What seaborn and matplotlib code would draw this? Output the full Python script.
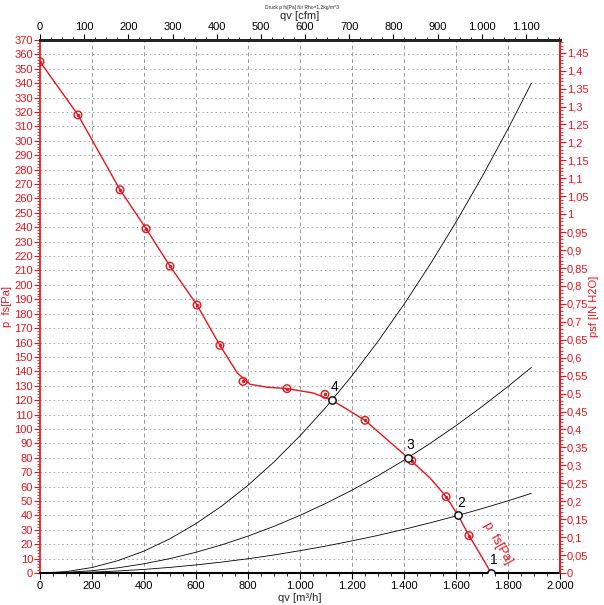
import numpy as np
import pandas as pd
import matplotlib
matplotlib.use("Agg")
import matplotlib.pyplot as plt
from matplotlib.ticker import MultipleLocator, FuncFormatter
import seaborn as sns

# fan curve p fs [Pa] over qv [m3/h]
fan_qv = [0, 146, 308, 408, 500, 604, 692, 720, 758, 808, 873, 950, 1050, 1123, 1250, 1415, 1500, 1562, 1608, 1650, 1690, 1735]
fan_p = [355, 318, 266, 239, 213, 186, 158, 150, 139, 131, 129, 128, 125, 120, 106, 80, 66, 53, 40, 26, 14, 0]
marker_qv = [0, 146, 308, 408, 500, 604, 692, 781, 950, 1096, 1250, 1430, 1562, 1650]
marker_p = [355, 318, 266, 239, 213, 186, 158, 133, 128, 124, 106, 78, 53, 26]

# system curves
sys_qv = [0, 100, 200, 300, 400, 500, 600, 700, 800, 900, 1000, 1100, 1200, 1300, 1400, 1500, 1600, 1700, 1800, 1890]
sys_a = [0, 0.95, 3.8, 8.6, 15.2, 23.8, 34.3, 46.6, 60.9, 77.1, 95.2, 115.1, 137, 160.8, 186.5, 214.1, 243.6, 275, 308.3, 340]
sys_b = [0, 0.4, 1.6, 3.6, 6.4, 10, 14.4, 19.6, 25.6, 32.4, 40, 48.4, 57.5, 67.5, 78.3, 89.9, 102.3, 115.5, 129.5, 142.7]
sys_c = [0, 0.15, 0.6, 1.4, 2.5, 3.9, 5.6, 7.6, 9.9, 12.5, 15.5, 18.7, 22.3, 26.1, 30.3, 34.8, 39.6, 44.7, 50.1, 55.3]

# operating points
op_labels = ["1", "2", "3", "4"]
op_qv = [1735, 1608, 1415, 1123]
op_p = [0, 40, 80, 120]

RED = "#e8141c"
PA_PER_INH2O = 249.089
M3H_PER_CFM = 1.69901

sns.set_style("white")
plt.rcParams["font.family"] = ["Liberation Sans", "DejaVu Sans"]

fig = plt.figure(figsize=(6.04, 6.05), dpi=100)
ax = fig.add_axes([40 / 604, 32 / 605, 520 / 604, 533 / 605])

# grid
for v in range(200, 2000, 200):
    ax.axvline(v, color="#999999", lw=0.7, ls=(0, (4, 3)), zorder=0)
for v in range(10, 370, 10):
    ax.axhline(v, color="#a0a0a0", lw=0.7, ls=(0, (1.5, 3)), zorder=0)

for ys in [sys_a, sys_b, sys_c]:
    sns.lineplot(x=sys_qv, y=ys, ax=ax, color="black", lw=0.6, sort=False, zorder=2)

sns.lineplot(x=fan_qv, y=fan_p, ax=ax, color=RED, lw=1.0, sort=False, zorder=3)
ax.scatter(marker_qv, marker_p, s=30, facecolors="none", edgecolors=RED, lw=1.0, zorder=4)
ax.scatter(marker_qv, marker_p, s=2, color=RED, zorder=4)

ax.scatter(op_qv, op_p, s=28, facecolors="white", edgecolors="black", lw=1.0, zorder=5)
for lab, q, p in zip(op_labels, op_qv, op_p):
    ax.text(q - 4, p + 4, lab, fontsize=10, color="black", ha="left", va="bottom", zorder=6)

ax.text(1762, 21, "p  fs[Pa]", color=RED, fontsize=9, rotation=-60,
        ha="center", va="center", zorder=6)

ax.set_xlim(0, 2000)
ax.set_ylim(0, 370)

def dotfmt(v, pos):
    return f"{int(round(v)):,}".replace(",", ".")

ax.xaxis.set_major_locator(MultipleLocator(200))
ax.xaxis.set_minor_locator(MultipleLocator(50))
ax.xaxis.set_major_formatter(FuncFormatter(dotfmt))
ax.yaxis.set_major_locator(MultipleLocator(10))
ax.yaxis.set_minor_locator(MultipleLocator(2))
ax.tick_params(axis="x", which="major", direction="out", length=4, labelsize=8, colors="black", pad=2)
ax.tick_params(axis="x", which="minor", direction="out", length=2, colors="black")
ax.tick_params(axis="y", which="major", direction="out", length=4, labelsize=8, colors=RED, pad=1)
ax.tick_params(axis="y", which="minor", direction="out", length=2, colors=RED)
ax.set_xlabel("qv [m³/h]", fontsize=8, labelpad=1)
ax.set_ylabel("p  fs[Pa]", fontsize=8, color=RED, labelpad=2)

for s in ax.spines.values():
    s.set_visible(True)
ax.spines["left"].set_color(RED)
ax.spines["left"].set_linewidth(1.2)
ax.spines["bottom"].set_color("black")
ax.spines["bottom"].set_linewidth(1.5)
ax.spines["top"].set_linewidth(2)
ax.spines["top"].set_color("black")
ax.spines["right"].set_color(RED)
ax.spines["right"].set_linewidth(1.2)

# right axis in inch H2O
axr = ax.twinx()
axr.set_ylim(0, 370 / PA_PER_INH2O)
axr.yaxis.set_major_locator(MultipleLocator(0.05))
axr.yaxis.set_minor_locator(MultipleLocator(0.01))

def commafmt(v, pos):
    s = f"{v:.2f}".rstrip("0").rstrip(".")
    return s.replace(".", ",")

axr.yaxis.set_major_formatter(FuncFormatter(commafmt))
axr.tick_params(axis="y", which="major", direction="out", length=4, labelsize=8, colors=RED, pad=1)
axr.tick_params(axis="y", which="minor", direction="out", length=2, colors=RED)
axr.set_ylabel("psf [IN H2O]", fontsize=8, color=RED, rotation=90, labelpad=0)
for s in axr.spines.values():
    s.set_visible(False)
axr.spines["right"].set_visible(True)
axr.spines["right"].set_color(RED)
axr.spines["right"].set_linewidth(1.2)

# top axis in cfm
axt = ax.twiny()
axt.set_xlim(0, 2000 / M3H_PER_CFM)
axt.xaxis.set_major_locator(MultipleLocator(100))
axt.xaxis.set_minor_locator(MultipleLocator(25))
axt.xaxis.set_major_formatter(FuncFormatter(dotfmt))
axt.tick_params(axis="x", which="major", direction="out", length=4, labelsize=8, colors="black", pad=2)
axt.tick_params(axis="x", which="minor", direction="out", length=2, colors="black")
axt.set_xlabel("qv [cfm]", fontsize=8, labelpad=2)
for s in axt.spines.values():
    s.set_visible(False)
axt.spines["top"].set_visible(True)
axt.spines["top"].set_linewidth(2)

fig.text(0.5, 0.992, "Druck p fs[Pa] für Rho=1,2kg/m^3", fontsize=3.5, ha="center", va="top")

fig.savefig("out.png", dpi=100)
